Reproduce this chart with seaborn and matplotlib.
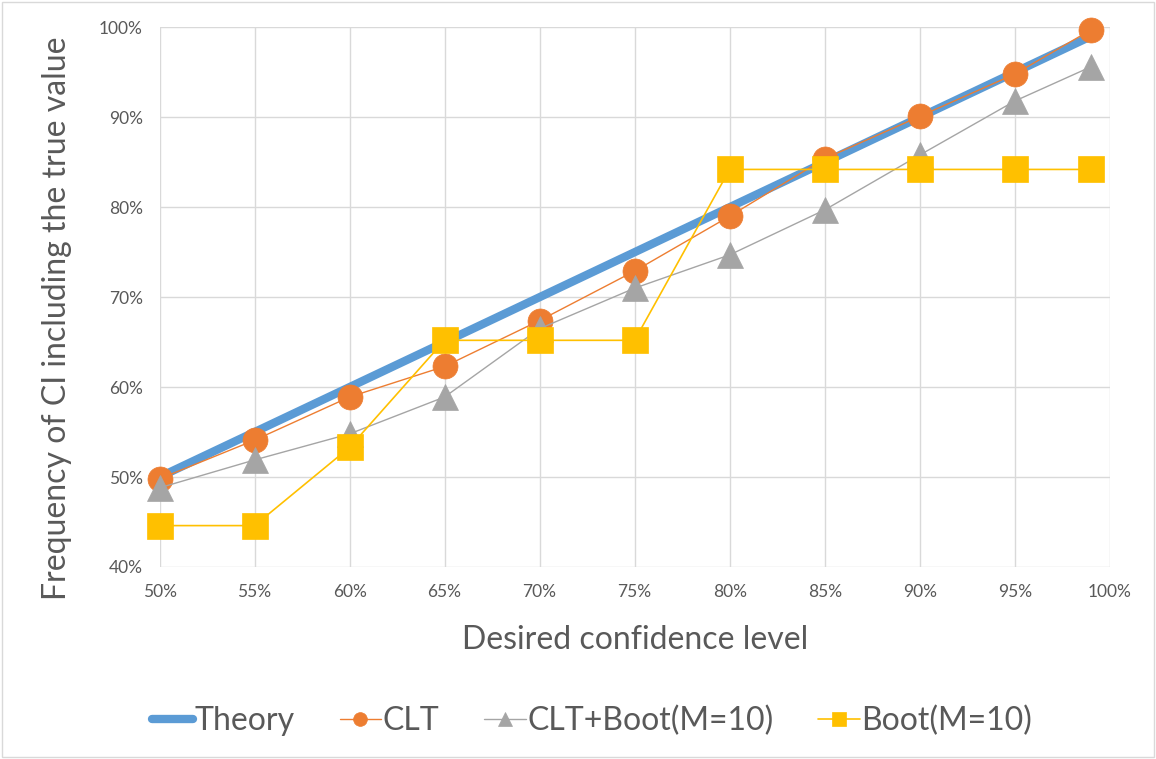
import pandas as pd
import matplotlib.pyplot as plt
import seaborn as sns
from matplotlib.ticker import PercentFormatter, MultipleLocator
from matplotlib.patches import Rectangle

# desired confidence levels (last point is 99%)
levels = [0.50, 0.55, 0.60, 0.65, 0.70, 0.75, 0.80, 0.85, 0.90, 0.95, 0.99]
theory = levels
clt = [0.498, 0.541, 0.589, 0.623, 0.674, 0.729, 0.790, 0.854, 0.901, 0.948, 0.997]
clt_boot = [0.488, 0.519, 0.548, 0.589, 0.665, 0.710, 0.747, 0.797, 0.858, 0.918, 0.956]
boot = [0.446, 0.446, 0.533, 0.652, 0.652, 0.652, 0.842, 0.842, 0.842, 0.842, 0.842]

series = ["Theory", "CLT", "CLT+Boot(M=10)", "Boot(M=10)"]

df = pd.DataFrame({
    "level": levels * 4,
    "freq": theory + clt + clt_boot + boot,
    "method": sum([[s] * len(levels) for s in series], []),
})

sns.set_style("white")
plt.rcParams['font.family'] = ['Lato', 'DejaVu Sans']
text_col = "#595959"

fig = plt.figure(figsize=(11.56, 7.59), dpi=100)
ax = fig.add_axes([0.138, 0.253, 0.822, 0.711])

styles = {
    "Theory": dict(color="#5B9BD5", linewidth=6, marker=None),
    "CLT": dict(color="#ED7D31", linewidth=1, marker="o", markersize=18),
    "CLT+Boot(M=10)": dict(color="#A5A5A5", linewidth=1, marker="^", markersize=19),
    "Boot(M=10)": dict(color="#FFC000", linewidth=1.2, marker="s", markersize=19),
}
zorders = {"Theory": 3, "CLT": 4, "CLT+Boot(M=10)": 4.5, "Boot(M=10)": 5}

for s in series:
    st = styles[s]
    sub = df[df["method"] == s]
    kw = dict(linewidth=st["linewidth"], color=st["color"], label=s, ax=ax,
              zorder=zorders[s], clip_on=False)
    if st["marker"]:
        kw.update(marker=st["marker"], markersize=st["markersize"],
                  markeredgecolor=st["color"], markeredgewidth=0.5)
    sns.lineplot(data=sub, x="level", y="freq", **kw)

ax.set_xlim(0.5, 1.0)
ax.set_ylim(0.4, 1.0)
ax.xaxis.set_major_locator(MultipleLocator(0.05))
ax.yaxis.set_major_locator(MultipleLocator(0.1))
ax.xaxis.set_major_formatter(PercentFormatter(1.0, decimals=0))
ax.yaxis.set_major_formatter(PercentFormatter(1.0, decimals=0))
ax.grid(True, color="#D9D9D9", linewidth=1)
ax.set_axisbelow(True)
for sp in ax.spines.values():
    sp.set_visible(False)
ax.tick_params(axis="both", length=0, labelsize=12.5, colors=text_col, pad=12)
ax.set_xlabel("Desired confidence level", fontsize=23, color=text_col, labelpad=18)
ax.set_ylabel("Frequency of CI including the true value", fontsize=23,
              color=text_col)
ax.yaxis.set_label_coords(-0.092, 0.46)

leg = ax.legend(loc="center", bbox_to_anchor=(0.455, -0.285), ncol=4, frameon=False,
                fontsize=23, handlelength=1.3, handletextpad=0.05, columnspacing=1.4,
                markerscale=0.55)
for t in leg.get_texts():
    t.set_color(text_col)

fig.patches.append(Rectangle((0.002, 0.003), 0.996, 0.994, transform=fig.transFigure,
                             fill=False, edgecolor="#D9D9D9", linewidth=1))

plt.savefig("out.png", dpi=100)
